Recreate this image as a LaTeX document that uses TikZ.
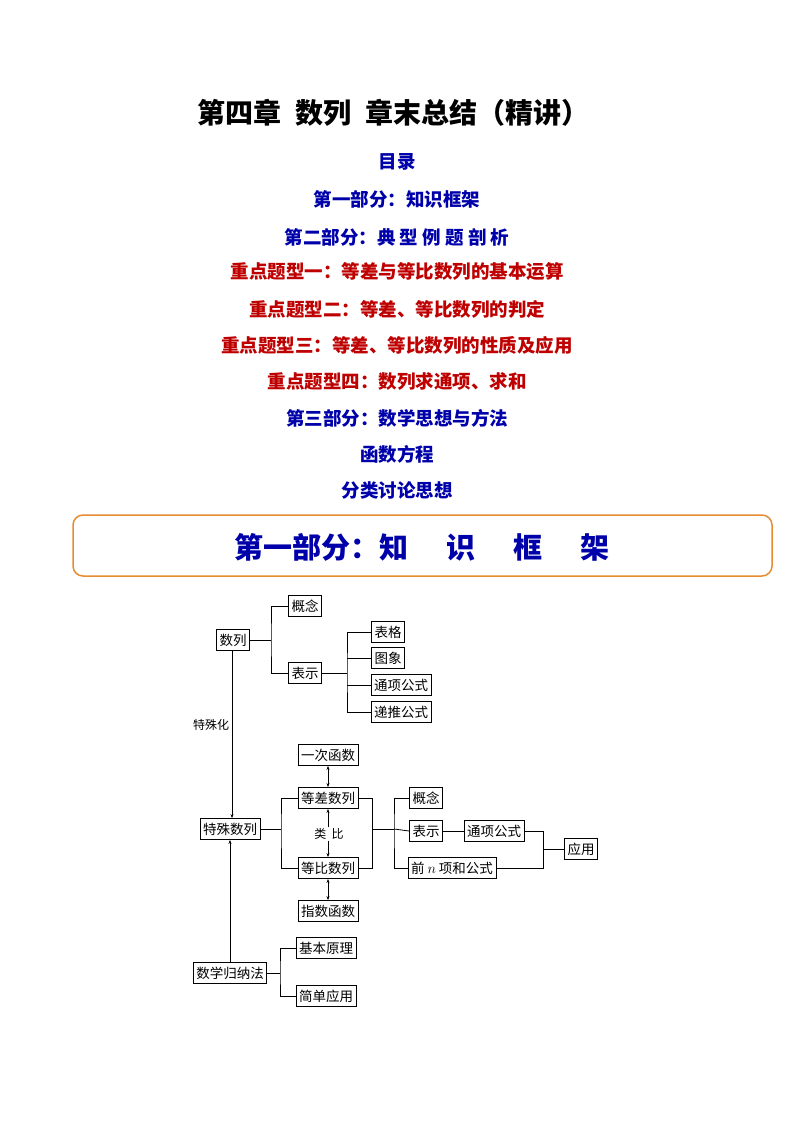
\documentclass[tikz,border=0pt]{standalone}
\usepackage{fontspec}
\setmainfont{Noto Sans CJK SC}
\usetikzlibrary{arrows.meta}
\definecolor{tblue}{RGB}{0,0,170}
\definecolor{tred}{RGB}{190,0,0}
\definecolor{torange}{RGB}{230,140,50}
\begin{document}
\begin{tikzpicture}[x=1pt,y=-1pt,
  bx/.style={draw,line width=0.8pt,inner sep=3pt,minimum height=21pt,font=\fontsize{13.5}{15}\selectfont},
  ln/.style={line width=0.8pt},
  ar/.style={line width=0.8pt,-{Stealth[length=4pt]}},
  dar/.style={line width=0.8pt,{Stealth[length=4pt]}-{Stealth[length=4pt]}},
  toc/.style={font=\fontsize{18.5}{20}\selectfont\bfseries}]
\useasboundingbox (0,0) rectangle (794,1123);
\node[font=\fontsize{28}{32}\selectfont\bfseries] (title) at (393,113) {第四章\enspace 数列\enspace 章末总结（精讲）};
\node[toc,tblue] (t1) at (397,162) {目录};
\node[toc,tblue] (t2) at (397,199) {第一部分：知识框架};
\node[toc,tblue] (t3) at (397,237) {第二部分：典\ 型\ 例\ 题\ 剖\ 析};
\node[toc,tred] (t4) at (397,272) {重点题型一：等差与等比数列的基本运算};
\node[toc,tred] (t5) at (397,309) {重点题型二：等差、等比数列的判定};
\node[toc,tred] (t6) at (397,345) {重点题型三：等差、等比数列的性质及应用};
\node[toc,tred] (t7) at (397,381) {重点题型四：数列求通项、求和};
\node[toc,tblue] (t8) at (397,418) {第三部分：数学思想与方法};
\node[toc,tblue] (t9) at (397,454) {函数方程};
\node[toc,tblue] (t10) at (397,490) {分类讨论思想};
\draw[torange,line width=1.5pt,rounded corners=10pt] (73,515) rectangle (772,576);
\node[tblue,font=\fontsize{29}{32}\selectfont\bfseries] (sec) at (422,547) {第一部分：知\hspace{1.3em}识\hspace{1.3em}框\hspace{1.3em}架};
% diagram
\node[bx] (sl) at (233,640) {数列};
\node[bx] (gn1) at (305,606) {概念};
\node[bx] (bs1) at (305,673) {表示};
\node[bx] (bg) at (388,632) {表格};
\node[bx] (tx) at (388,658) {图象};
\node[bx] (tg1) at (401,685) {通项公式};
\node[bx] (dt) at (401,712) {递推公式};
\node[bx] (ts) at (230,829) {特殊数列};
\node[bx] (yc) at (328,755) {一次函数};
\node[bx] (dc) at (328,798) {等差数列};
\node[bx] (db) at (328,868) {等比数列};
\node[bx] (zs) at (328,911) {指数函数};
\node[bx] (gn2) at (426,798) {概念};
\node[bx] (bs2) at (426,831) {表示};
\node[bx] (tg2) at (494,831) {通项公式};
\node[bx] (qn) at (452,868) {前 $n$ 项和公式};
\node[bx] (yy) at (581,849) {应用};
\node[bx] (gn) at (230,973) {数学归纳法};
\node[bx] (jb) at (326,948) {基本原理};
\node[bx] (jd) at (326,996) {简单应用};
\node[font=\fontsize{12}{13}\selectfont] (tsh) at (211,725) {特殊化};
\node[font=\fontsize{12}{13}\selectfont,fill=white,inner sep=1pt] (lb) at (329,834) {类\ \ 比};
\draw[ln] (sl.east) -- (271,640) coordinate (b1);
\draw[ln] (gn1.west) -| (b1) |- (bs1.west);
\draw[ln] (bs1.east) -- (347,673) coordinate (b2);
\draw[ln] (bg.west) -| (b2) |- (dt.west);
\draw[ln] (tx.west) -- (tx.west -| b2);
\draw[ln] (tg1.west) -- (tg1.west -| b2);
\draw[ar] (232,651) -- (ts.north -| 232,0);
\draw[ar] (gn.north) -- (ts.south);
\draw[ln] (ts.east) -- (281,829) coordinate (b3);
\draw[ln] (dc.west) -| (b3) |- (db.west);
\draw[ln] (dc.east) -- (372,798) coordinate (b4) -- (372,868) -- (db.east);
\draw[ln] (372,829) -- (394,829) coordinate (b5);
\draw[ln] (gn2.west) -| (b5) |- (qn.west);
\draw[ln] (b5) -- (bs2.west);
\draw[ln] (bs2.east) -- (tg2.west);
\draw[ln] (tg2.east) -| (543,849) coordinate (b6);
\draw[ln] (qn.east) -| (b6);
\draw[ln] (b6) -- (yy.west);
\draw[dar] (yc.south) -- (dc.north);
\draw[dar] (db.south) -- (zs.north);
\draw[ar] (lb.north -| dc.south) -- (dc.south);
\draw[ar] (lb.south -| db.north) -- (db.north);
\draw[ln] (gn.east) -- (280,973) coordinate (b7);
\draw[ln] (jb.west) -| (b7) |- (jd.west);
\end{tikzpicture}
\end{document}
